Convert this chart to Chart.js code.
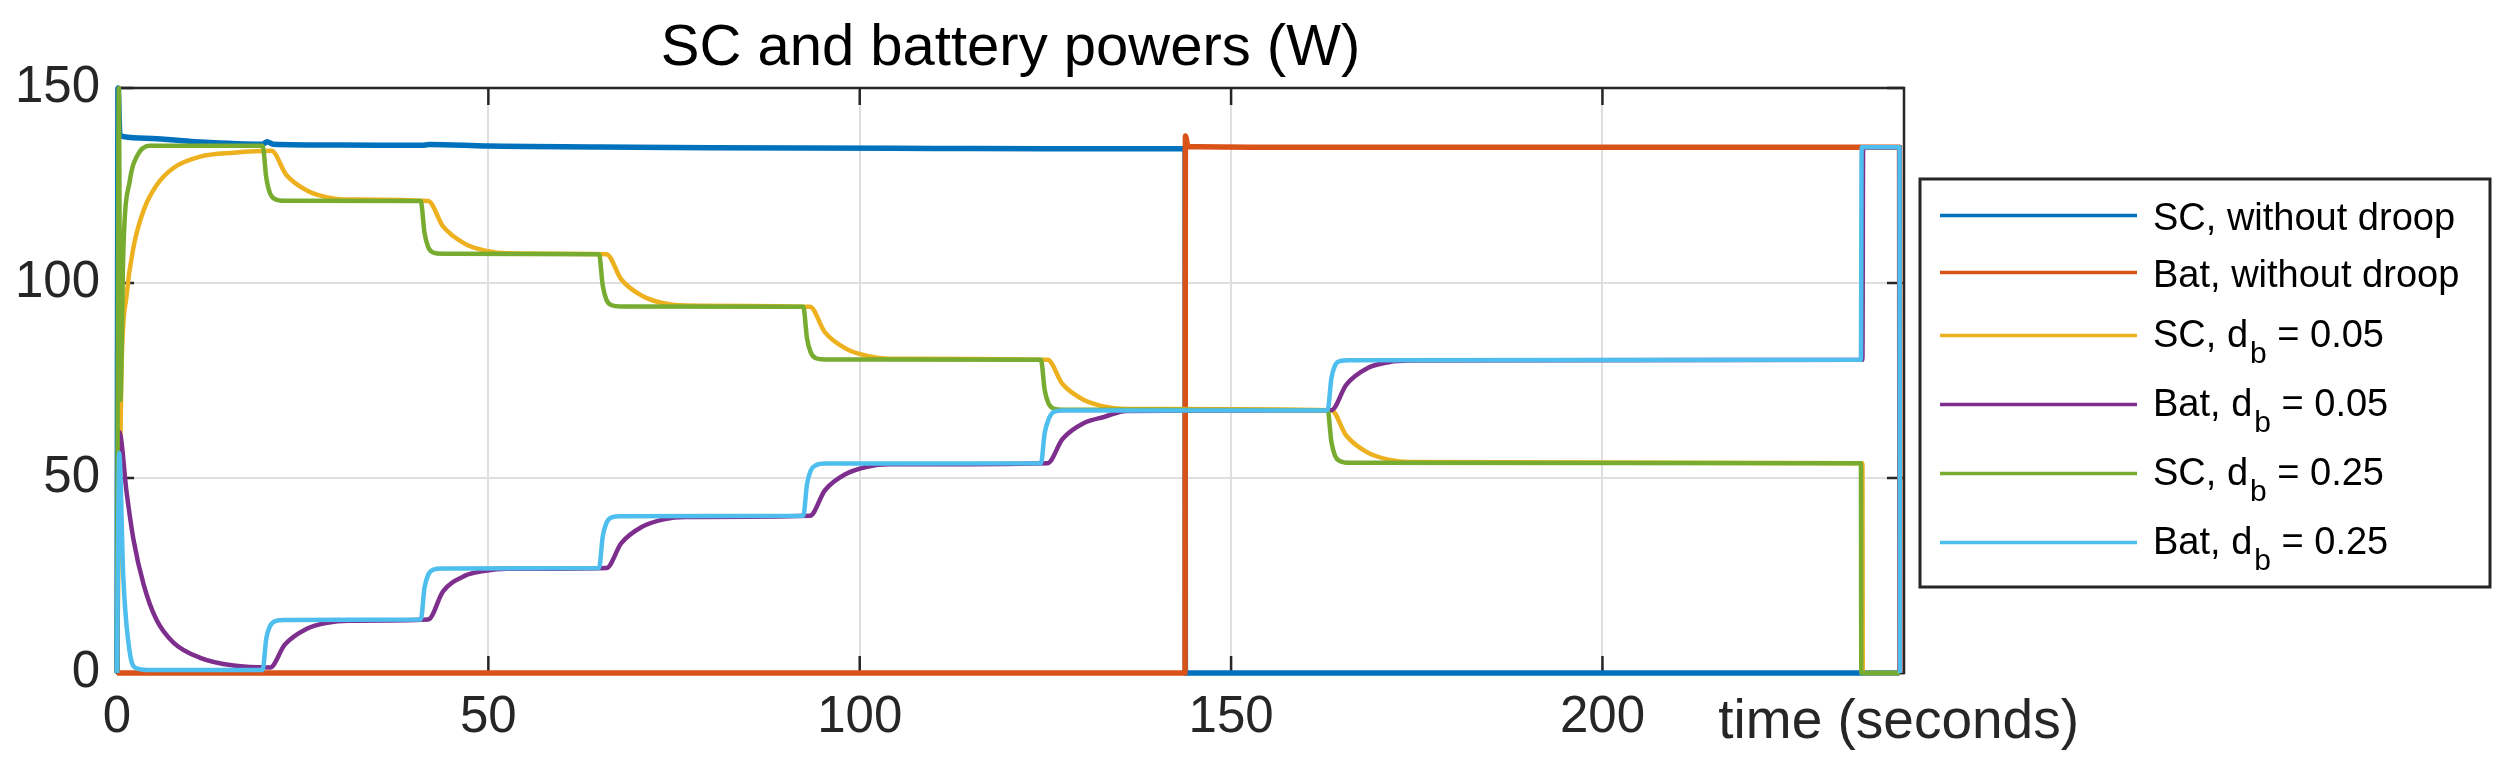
<!DOCTYPE html>
<html>
<head>
<meta charset="utf-8">
<script src="https://cdn.jsdelivr.net/npm/chart.js@4.4.1/dist/chart.umd.min.js"></script>
<style>
  html, body { margin: 0; padding: 0; background: #fff; }
  #grafico { display: block; }
</style>
</head>
<body>
<canvas id="grafico" width="2506" height="762"></canvas>
<script>
// valores: [tempo (s), potencia (W)]
const scSemDroop = [
  [0, 0], [0.15, 150], [0.4, 137.8], [3, 137.2], [10, 136.3], [19.6, 135.6], [20.2, 136.2],
  [21, 135.6], [30, 135.4], [41, 135.3], [42, 135.5], [50, 135.1], [65, 134.9], [80, 134.7],
  [92, 134.6], [110, 134.5], [125, 134.4], [143.8, 134.4], [143.85, 0], [240, 0]
];
const batSemDroop = [
  [0, 0], [143.8, 0], [143.85, 137.7], [144.2, 135], [160, 134.8], [200, 134.8],
  [240, 134.8], [240.05, 0]
];
const scDb005 = [
  [0, 0], [0.6, 77.5], [1.3, 97], [2.2, 109], [3.6, 118.7], [5.3, 125], [7.6, 129.5],
  [11.2, 132.4], [15.7, 133.4], [20.8, 133.9],
  [22.8, 127.7], [25.7, 123.6], [28.5, 121.9], [31.4, 121.4], [41.9, 121],
  [43.9, 114.5], [46.8, 110.1], [49.6, 108.3], [52.5, 107.6], [65.9, 107.4],
  [67.9, 100.9], [70.8, 96.6], [73.6, 94.8], [76.5, 94.2], [93.3, 93.9],
  [95.3, 87.4], [98.2, 83.1], [101, 81.3], [103.9, 80.6], [125.3, 80.3],
  [127.3, 74.1], [130.2, 70], [133, 68.3], [135.9, 67.7], [163.5, 67.4],
  [165.5, 60.9], [168.4, 56.5], [171.2, 54.7], [174.1, 54.1], [235, 53.8], [235.05, 0], [240, 0]
];
const batDb005 = [
  [0, 0], [0.3, 61.8], [1.3, 46.2], [2.2, 34.4], [3.6, 22.6], [5.3, 13.7], [7.6, 7.8],
  [11.2, 3.9], [15.7, 1.9], [20.6, 1.4],
  [22.6, 7.3], [25.5, 11.3], [28.3, 12.9], [31.2, 13.4], [41.9, 13.7],
  [43.9, 20.9], [46.8, 24.9], [49.6, 26.2], [52.5, 26.7], [65.9, 26.9],
  [67.9, 33.3], [70.8, 37.6], [73.6, 39.4], [76.5, 40], [93.3, 40.3],
  [95.3, 46.8], [98.2, 51.1], [101, 52.9], [103.9, 53.5], [125.3, 53.8],
  [127.3, 60], [130.2, 64.1], [133, 65.7], [135.9, 67.2], [163.5, 67.4],
  [165.5, 73.9], [168.4, 78.2], [171.2, 79.7], [174.1, 80.1], [235, 80.3],
  [235.1, 134.8], [240, 134.8], [240.05, 0]
];
const scDb025 = [
  [0, 0], [0.25, 150], [0.45, 70], [0.85, 108], [1.75, 126.5], [2.65, 132.4], [4.4, 135.2], [19.6, 135.2],
  [20.1, 127], [20.6, 123], [21.3, 121.5], [22.5, 121.1], [40.9, 121],
  [41.4, 112.9], [41.9, 109.2], [42.6, 107.8], [43.8, 107.5], [64.9, 107.4],
  [65.4, 99.3], [65.9, 95.7], [66.6, 94.3], [67.8, 94], [92.4, 93.9],
  [92.9, 85.8], [93.4, 82.2], [94.1, 80.7], [95.3, 80.4], [124.4, 80.3],
  [124.9, 72.6], [125.4, 69.2], [126.1, 67.8], [127.3, 67.5], [163, 67.4],
  [163.5, 59.3], [164, 55.7], [164.7, 54.3], [165.9, 53.9], [234.8, 53.8], [234.85, 0], [240, 0]
];
const batDb025 = [
  [0, 0], [0.3, 56.4], [0.85, 24.5], [1.75, 4.9], [2.65, 1.2], [4, 0.8], [19.6, 0.8],
  [20.1, 8.9], [20.6, 12], [21.3, 13.3], [22.5, 13.6], [40.9, 13.7],
  [41.4, 21.8], [41.9, 25.2], [42.6, 26.5], [43.8, 26.8], [64.9, 26.9],
  [65.4, 35], [65.9, 38.5], [66.6, 39.9], [67.8, 40.2], [92.4, 40.3],
  [92.9, 48.4], [93.4, 51.9], [94.1, 53.3], [95.3, 53.7], [124.4, 53.8],
  [124.9, 61.5], [125.4, 64.9], [126.1, 66.9], [127.3, 67.3], [163, 67.4],
  [163.5, 75.5], [164, 78.9], [164.7, 80], [165.9, 80.2], [234.8, 80.3],
  [234.9, 134.8], [240, 134.8], [240.05, 0]
];

const series = [scSemDroop, batSemDroop, scDb005, batDb005, scDb025, batDb025];
const rotulos = ["SC, without droop", "Bat, without droop", "SC, d_b = 0.05", "Bat, d_b = 0.05", "SC, d_b = 0.25", "Bat, d_b = 0.25"];
const cores = ["#0072BD", "#D95319", "#EDB120", "#7E2F8E", "#77AC30", "#4DBEEE"];
const espessuras = [5.5, 5.5, 4.5, 4.5, 4.5, 4.5];

const xTicks = [0, 50, 100, 150, 200];
const yTicks = [0, 50, 100, 150];
const titulo = "SC and battery powers (W)";
const rotuloX = "time (seconds)";
const rotuloXEm = 215.6; // onde comeca o texto do eixo x (em segundos)

const FONTE = "'Liberation Sans', Arial, Helvetica, sans-serif";
const CINZA = "#262626";
const TICK = 17;

// desenha caixa, ticks para dentro, titulo, rotulo do eixo x e legenda (estilo MATLAB)
const molduraMatlab = {
  id: "molduraMatlab",
  beforeDatasetsDraw(chart) {
    const { ctx, chartArea: a, scales: { x, y } } = chart;
    ctx.save();
    ctx.strokeStyle = CINZA;
    ctx.lineWidth = 2.5;
    ctx.beginPath();
    xTicks.forEach(v => {
      const px = x.getPixelForValue(v);
      ctx.moveTo(px, a.bottom); ctx.lineTo(px, a.bottom - TICK);
      ctx.moveTo(px, a.top); ctx.lineTo(px, a.top + TICK);
    });
    yTicks.forEach(v => {
      const py = y.getPixelForValue(v);
      ctx.moveTo(a.left, py); ctx.lineTo(a.left + TICK, py);
      ctx.moveTo(a.right, py); ctx.lineTo(a.right - TICK, py);
    });
    ctx.stroke();
    ctx.strokeRect(a.left, a.top, a.right - a.left, a.bottom - a.top);
    ctx.restore();
  },
  afterDraw(chart) {
    const { ctx, chartArea: a, scales: { x } } = chart;
    ctx.save();

    // titulo
    ctx.fillStyle = "#000";
    ctx.font = `58px ${FONTE}`;
    ctx.textAlign = "center";
    ctx.textBaseline = "alphabetic";
    ctx.fillText(titulo, (a.left + a.right) / 2, 65);

    // rotulo do eixo x
    ctx.fillStyle = CINZA;
    ctx.font = `55px ${FONTE}`;
    ctx.textAlign = "left";
    ctx.fillText(rotuloX, x.getPixelForValue(rotuloXEm), 738);

    // legenda
    const lx = a.right + 16, ly = 179, lw = 570, lh = 408;
    ctx.fillStyle = "#fff";
    ctx.fillRect(lx, ly, lw, lh);
    ctx.strokeStyle = CINZA;
    ctx.lineWidth = 3;
    ctx.strokeRect(lx, ly, lw, lh);

    let yAtual = ly + 8;
    rotulos.forEach((txt, i) => {
      const temSub = txt.includes("_");
      const altura = temSub ? 69 : 57;
      const yc = yAtual + altura / 2;
      yAtual += altura;

      ctx.strokeStyle = cores[i];
      ctx.lineWidth = 3.5;
      ctx.beginPath();
      ctx.moveTo(lx + 20, yc);
      ctx.lineTo(lx + 217, yc);
      ctx.stroke();

      ctx.fillStyle = "#000";
      let tx = lx + 233;
      const base = yc + (temSub ? 11 : 14);
      if (!temSub) {
        ctx.font = `38px ${FONTE}`;
        ctx.fillText(txt, tx, base);
      } else {
        const [antes, resto] = txt.split("_");
        const sub = resto.charAt(0);
        const depois = resto.slice(1);
        ctx.font = `38px ${FONTE}`;
        ctx.fillText(antes, tx, base);
        tx += ctx.measureText(antes).width + 2;
        ctx.font = `30px ${FONTE}`;
        ctx.fillText(sub, tx, base + 16);
        tx += ctx.measureText(sub).width;
        ctx.font = `38px ${FONTE}`;
        ctx.fillText(depois, tx, base);
      }
    });
    ctx.restore();
  }
};

const ctx = document.getElementById("grafico").getContext("2d");

new Chart(ctx, {
  type: "line",
  data: {
    datasets: series.map((s, i) => ({
      label: rotulos[i],
      data: s.map(p => ({ x: p[0], y: p[1] })),
      borderColor: cores[i],
      backgroundColor: cores[i],
      borderWidth: espessuras[i],
      pointRadius: 0,
      cubicInterpolationMode: "monotone",
      fill: false,
      borderJoinStyle: "round",
      clip: 5,
      order: series.length - i
    }))
  },
  options: {
    responsive: false,
    animation: false,
    devicePixelRatio: 1,
    layout: { padding: { top: 88, right: 602, bottom: 0, left: 0 } },
    plugins: {
      legend: { display: false },
      title: { display: false },
      tooltip: { enabled: false }
    },
    scales: {
      x: {
        type: "linear",
        min: 0,
        max: 240.6,
        afterBuildTicks: s => { s.ticks = xTicks.map(v => ({ value: v })); },
        afterFit: s => { s.height = 89; },
        grid: { color: "#dfdfdf", lineWidth: 2, drawTicks: false },
        border: { display: false },
        ticks: {
          padding: 14,
          maxRotation: 0,
          color: CINZA,
          font: { family: FONTE, size: 51 }
        }
      },
      y: {
        type: "linear",
        min: 0,
        max: 150,
        afterBuildTicks: s => { s.ticks = yTicks.map(v => ({ value: v })); },
        afterFit: s => { s.width = 117; },
        grid: { color: "#dfdfdf", lineWidth: 2, drawTicks: false },
        border: { display: false },
        ticks: {
          padding: 17,
          color: CINZA,
          font: { family: FONTE, size: 51 }
        }
      }
    }
  },
  plugins: [molduraMatlab]
});
</script>
</body>
</html>
